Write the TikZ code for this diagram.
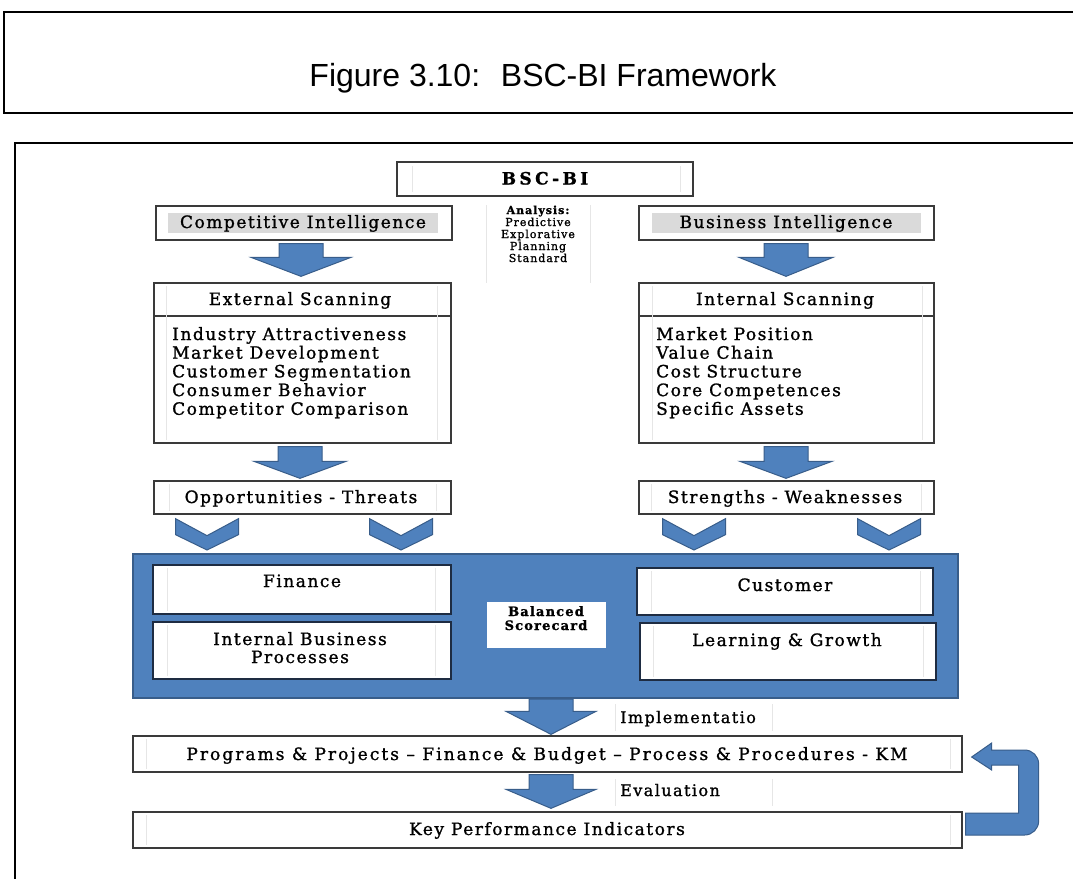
\documentclass[tikz,border=0pt]{standalone}
\usepackage{fontspec}
\setmainfont{DejaVu Serif}
\newfontfamily\framefont{DejaVu Serif}[LetterSpace=9, FakeBold=1.2]
\newfontfamily\titlefont{Liberation Sans}
\usetikzlibrary{calc}

\definecolor{panelblue}{RGB}{79,129,189}
\definecolor{paneledge}{RGB}{56,93,138}
\definecolor{boxedge}{RGB}{58,58,58}
\definecolor{inneredge}{RGB}{30,44,66}
\definecolor{ghost}{RGB}{230,230,230}
\definecolor{barfill}{RGB}{218,218,218}

\tikzset{
  box/.style={draw=boxedge, line width=1.3pt, fill=white, inner sep=0pt},
  inbox/.style={draw=inneredge, line width=1.5pt, fill=white, inner sep=0pt},
  panel/.style={draw=paneledge, line width=2pt, fill=panelblue, inner sep=0pt},
  blockarrow/.style={fill=panelblue, draw=paneledge, line width=1pt, line join=miter},
  ghostline/.style={draw=ghost, line width=0.9pt},
  txt/.style={inner sep=0pt, anchor=base, font=\framefont\fontsize{17}{20}\selectfont},
  small/.style={txt, font=\framefont\fontsize{11}{13}\selectfont},
  listtxt/.style={txt, anchor=base west},
  notetxt/.style={listtxt, font=\framefont\fontsize{16}{19}\selectfont},
}

% straight block arrow pointing down: x centre, from node, to node,
% gap below source, gap above target, head length, head half-width
\newcommand{\blockdown}[7]{%
  \filldraw[blockarrow] let \p1=(#2.south), \p2=(#3.north) in
      ({#1pt-22pt},{\y1-#4pt}) -- ({#1pt+22pt},{\y1-#4pt})
      -- ({#1pt+22pt},{\y2+#5pt+#6pt}) -- ({#1pt+#7pt},{\y2+#5pt+#6pt})
      -- ({#1pt},{\y2+#5pt})
      -- ({#1pt-#7pt},{\y2+#5pt+#6pt}) -- ({#1pt-22pt},{\y2+#5pt+#6pt}) -- cycle;}

% chevron pointing down between two nodes
\newcommand{\chevdown}[3]{%
  \filldraw[blockarrow] let \p1=(#2.south), \p2=(#3.north) in
      ({#1pt-31.5pt},{\y1-4pt}) -- ({#1pt},{\y1-21pt}) -- ({#1pt+31.5pt},{\y1-4pt})
      -- ({#1pt+31.5pt},{\y1-20pt}) -- ({#1pt},{\y2+3pt})
      -- ({#1pt-31.5pt},{\y1-20pt}) -- cycle;}

\newcommand{\ghostpair}[4]{%
  \draw[ghostline] (#1,#3) -- (#1,#4);
  \draw[ghostline] (#2,#3) -- (#2,#4);}

\begin{document}
\begin{tikzpicture}[x=1pt, y=-1pt]
\useasboundingbox (0,0) rectangle (1073,878);
\clip (0,0) rectangle (1073,878);
\fill[white] (0,0) rectangle (1073,878);

% caption frame and drawing frame
\draw[line width=2.4pt, line join=miter] (1090,12) -- (4,12) -- (4,113) -- (1090,113);
\node[inner sep=0pt, anchor=base, font=\titlefont\fontsize{32}{36}\selectfont] (title) at (543,86)
  {Figure 3.10:~ BSC-BI Framework};
\draw[line width=1.9pt, line join=miter] (1090,143) -- (15,143) -- (15,890);

% top row
\node[box, minimum width=296pt, minimum height=34pt] (bsc) at (545,179) {};
\ghostpair{412}{680}{166}{192}
\node[txt, font=\framefont\addfontfeature{LetterSpace=20}\bfseries\fontsize{17}{20}\selectfont] (bsc-t) at (545,184.5) {BSC-BI};

\ghostpair{486}{590}{205}{283}
\node[small, font=\framefont\bfseries\fontsize{11}{13}\selectfont] (an-1) at (538,214) {Analysis:};
\node[small] (an-2) at (538,226) {Predictive};
\node[small] (an-3) at (538,238) {Explorative};
\node[small] (an-4) at (538,250) {Planning};
\node[small] (an-5) at (538,262) {Standard};

\node[box, minimum width=296pt, minimum height=34pt] (ci) at (304,223) {};
\fill[barfill] (168,213) rectangle (438,233);
\node[txt] (ci-t) at (303,228) {Competitive Intelligence};

\node[box, minimum width=295pt, minimum height=34pt] (bi) at (786.5,223) {};
\fill[barfill] (652,213) rectangle (921,233);
\node[txt] (bi-t) at (786,228) {Business Intelligence};

% scanning boxes
\node[box, minimum width=297pt, minimum height=160pt] (ext) at (302.5,363) {};
\draw[boxedge, line width=1.3pt] (154,316) -- (451,316);
\ghostpair{166}{437}{286}{440}
\node[txt] (ext-t) at (300,305) {External Scanning};
\foreach \t [count=\i] in {Industry Attractiveness, Market Development,
    Customer Segmentation, Consumer Behavior, Competitor Comparison}
  \node[listtxt] (ext-\i) at (172,{340+(\i-1)*18.7}) {\t};

\node[box, minimum width=295pt, minimum height=160pt] (int) at (786.5,363) {};
\draw[boxedge, line width=1.3pt] (639,316) -- (934,316);
\ghostpair{652}{922}{286}{440}
\node[txt] (int-t) at (785,305) {Internal Scanning};
\foreach \t [count=\i] in {Market Position, Value Chain, Cost Structure,
    Core Competences, Specific Assets}
  \node[listtxt] (int-\i) at (656,{340+(\i-1)*18.7}) {\t};

% SWOT boxes
\node[box, minimum width=297pt, minimum height=33pt] (ot) at (302.5,497.5) {};
\ghostpair{169}{436}{484}{511}
\node[txt] (ot-t) at (301,503) {Opportunities - Threats};

\node[box, minimum width=295pt, minimum height=33pt] (sw) at (786.5,497.5) {};
\ghostpair{651}{921}{484}{511}
\node[txt] (sw-t) at (785,503) {Strengths - Weaknesses};

% balanced scorecard panel
\node[panel, minimum width=825pt, minimum height=144pt] (panel) at (545.5,626) {};
\node[inbox, minimum width=298pt, minimum height=49pt] (fin) at (302,589.5) {};
\ghostpair{167}{435}{568}{611}
\node[txt] (fin-t) at (302,587) {Finance};
\node[inbox, minimum width=298pt, minimum height=57pt] (ibp) at (302,650.5) {};
\ghostpair{167}{435}{625}{676}
\node[txt] (ibp-t1) at (300,645) {Internal Business};
\node[txt] (ibp-t2) at (300,663) {Processes};
\node[inbox, minimum width=296pt, minimum height=47pt] (cus) at (785,591.5) {};
\ghostpair{651}{920}{571}{612}
\node[txt] (cus-t) at (785,591) {Customer};
\node[inbox, minimum width=296pt, minimum height=57pt] (lg) at (788,651.5) {};
\ghostpair{653}{923}{626}{677}
\node[txt] (lg-t) at (787,646) {Learning \& Growth};
\node[fill=white, inner sep=0pt, minimum width=119pt, minimum height=46pt] (bal) at (546.5,625) {};
\node[txt, font=\framefont\bfseries\fontsize{13}{15}\selectfont] (bal-t1) at (546,616) {Balanced};
\node[txt, font=\framefont\bfseries\fontsize{13}{15}\selectfont] (bal-t2) at (546,630) {Scorecard};

% implementation and evaluation
\node[box, minimum width=829pt, minimum height=36pt] (prog) at (547.5,754) {};
\ghostpair{146}{950}{739}{769}
\node[txt, font=\framefont\addfontfeature{LetterSpace=12}\fontsize{17}{20}\selectfont] (prog-t) at (547,760)
  {Programs \& Projects \textendash{} Finance \& Budget \textendash{} Process \& Procedures - KM};
\node[box, minimum width=829pt, minimum height=36pt] (kpi) at (547.5,830) {};
\ghostpair{146}{950}{815}{845}
\node[txt] (kpi-t) at (547,835) {Key Performance Indicators};

\ghostpair{615}{772}{704}{731}
\node[notetxt] (impl) at (620,723) {Implementatio};
\ghostpair{615}{772}{779}{806}
\node[notetxt] (eval) at (620,796) {Evaluation};

% block arrows
\blockdown{301}{ci}{ext}{3}{6}{19}{50}
\blockdown{786}{bi}{int}{3}{6}{19}{47}
\blockdown{300}{ext}{ot}{3}{2}{17}{46}
\blockdown{786}{int}{sw}{3}{2}{17}{46}
\blockdown{551}{panel}{prog}{0}{1}{23}{45}
\blockdown{551}{prog}{kpi}{2}{3}{19}{45}

\chevdown{207}{ot}{panel}
\chevdown{401}{ot}{panel}
\chevdown{694}{sw}{panel}
\chevdown{889}{sw}{panel}

% feedback U-turn from the indicators back to the programmes
\filldraw[blockarrow] let \p1=(kpi.east), \p2=(prog.east) in
    ({\x1+3pt},{\y1+17pt}) -- ({\x1+56pt},{\y1+17pt}) -- ({\x1+56pt},{\y2-11pt})
    -- ({\x1+29pt},{\y2-11pt}) -- ({\x1+29pt},{\y2-16pt}) -- ({\x1+9pt},{\y2-3pt})
    -- ({\x1+29pt},{\y2+11pt}) -- ({\x1+29pt},{\y2+4pt}) -- ({\x1+62pt},{\y2+4pt})
    arc[start angle=90, end angle=0, radius=14pt]
    -- ({\x1+76pt},{\y1+9pt})
    arc[start angle=0, end angle=-90, radius=14pt]
    -- ({\x1+3pt},{\y1-5pt}) -- cycle;
\end{tikzpicture}
\end{document}
